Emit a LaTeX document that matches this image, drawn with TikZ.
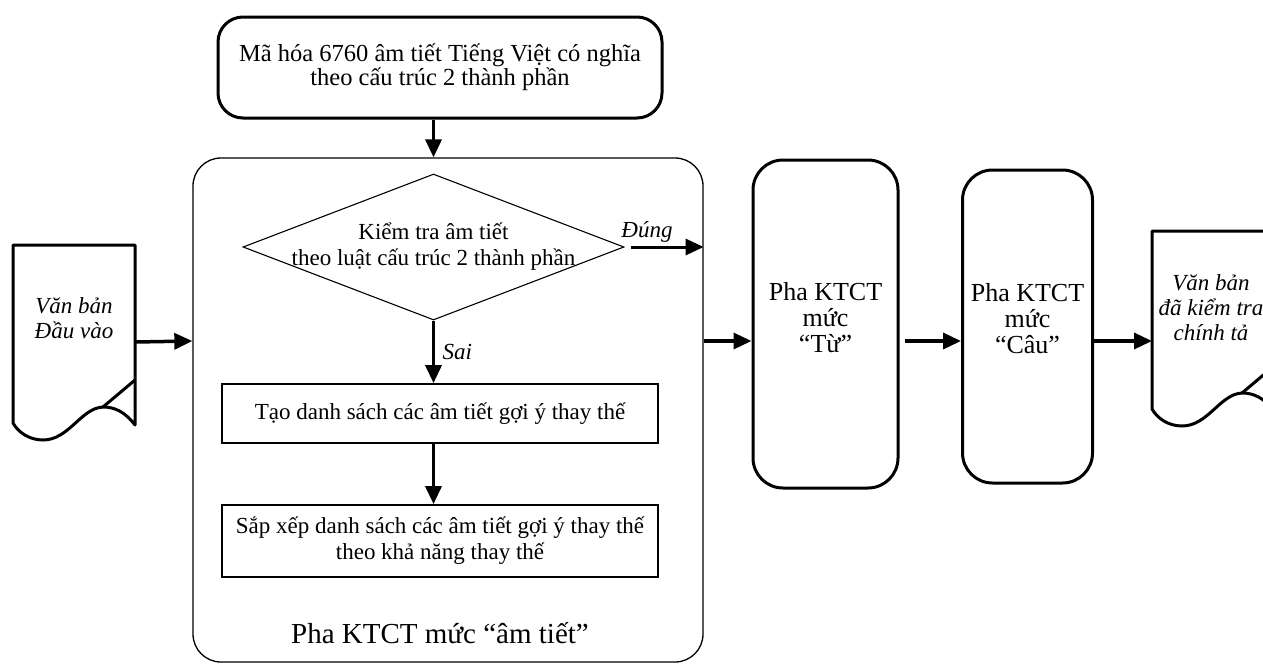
\documentclass[tikz,border=0pt]{standalone}
\usepackage{fontspec}
\setmainfont{Liberation Serif}
\usetikzlibrary{arrows.meta,shapes.geometric}
\begin{document}
\begin{tikzpicture}[x=1pt,y=-1pt,
  base/.style={font=\fontsize{23}{26}\selectfont},
  lab/.style={font=\fontsize{23}{25}\selectfont\itshape},
  phase/.style={font=\fontsize{26}{26}\selectfont, align=center},
  thickbox/.style={draw, line width=3pt, align=center},
  thinbox/.style={draw, line width=1.8pt, align=center, base},
  arr/.style={line width=3.5pt, -{Triangle[length=18pt,width=16pt]}},
  docshape/.pic={
    \draw[line width=3pt, line join=round] (0,0) -- (122,0) -- (122,180)
      .. controls (112,167) and (102,162) .. (90,162)
      .. controls (68,163) and (56,195) .. (30,195)
      .. controls (16,195) and (5,187) .. (0,178) -- cycle;
    \draw[line width=3pt] (90,162) -- (122,135);
  }]
\useasboundingbox (0,0) rectangle (1263,665);
\clip (0,0) rectangle (1263,665);

% top box
\node[thickbox, font=\fontsize{24.5}{24}\selectfont, rounded corners=25pt, minimum width=444pt, minimum height=101pt] (top) at (440,67.5)
  {Mã hóa 6760 âm tiết Tiếng Việt có nghĩa\\theo cấu trúc 2 thành phần};

% big phase box
\node[draw, line width=1.3pt, rounded corners=28pt, minimum width=510pt, minimum height=504pt] (big) at (448,410) {};
\node[font=\fontsize{29}{30}\selectfont] (lbl) at (440,633) {Pha KTCT mức “âm tiết”};

% decision
\node[draw, diamond, line width=1.1pt, inner sep=0pt, minimum width=381pt, minimum height=146pt] (dec) at (433.5,247) {};
\node[base, align=center] (dectext) at (433.5,247) {Kiểm tra âm tiết\\theo luật cấu trúc 2 thành phần};

% process boxes
\node[thinbox, minimum width=436pt, minimum height=59pt] (r1) at (440,413.5) {Tạo danh sách các âm tiết gợi ý thay thế};
\node[thinbox, minimum width=436pt, minimum height=72pt] (r2) at (440,541) {Sắp xếp danh sách các âm tiết gợi ý thay thế\\theo khả năng thay thế};

% phase boxes
\node[thickbox, rounded corners=30pt, minimum width=145pt, minimum height=328pt] (tu) at (825.5,324) {};
\node[phase] (tutext) at (825.5,318) {Pha KTCT\\mức\\“Từ”};
\node[thickbox, rounded corners=30pt, minimum width=130pt, minimum height=313pt] (cau) at (1027.5,326.5) {};
\node[phase] (cautext) at (1027.5,319) {Pha KTCT\\mức\\“Câu”};

% documents
\pic at (13,245) {docshape};
\node[lab, align=center] (intext) at (74,318) {Văn bản\\Đầu vào};
\coordinate (inR) at (135,342);
\pic at (1152,231) {docshape};
\node[lab, align=center] (outtext) at (1211,308) {Văn bản\\đã kiểm tra\\chính tả};
\coordinate (outL) at (1152,341);

% connectors
\coordinate (ya) at (0,341);
\draw[arr] (top.south -| dec.south) -- (dec.south |- big.north);
\draw[arr] (inR) -- (big.west |- ya);
\draw[arr, line width=3pt] ([xshift=6pt]dec.east) -- (big.east |- dec.east);
\node[lab] (dung) at (647,232) {Đúng};
\draw[arr] (dec.south) -- (dec.south |- r1.north);
\node[lab, anchor=west] (sai) at (439,352) {Sai};
\draw[arr] (dec.south |- r1.south) -- (dec.south |- r2.north);
\draw[arr] (big.east |- ya) -- (tu.west |- ya);
\draw[arr] ([xshift=5pt]tu.east |- ya) -- (cau.west |- ya);
\draw[arr] (cau.east |- ya) -- (outL);
\end{tikzpicture}
\end{document}
